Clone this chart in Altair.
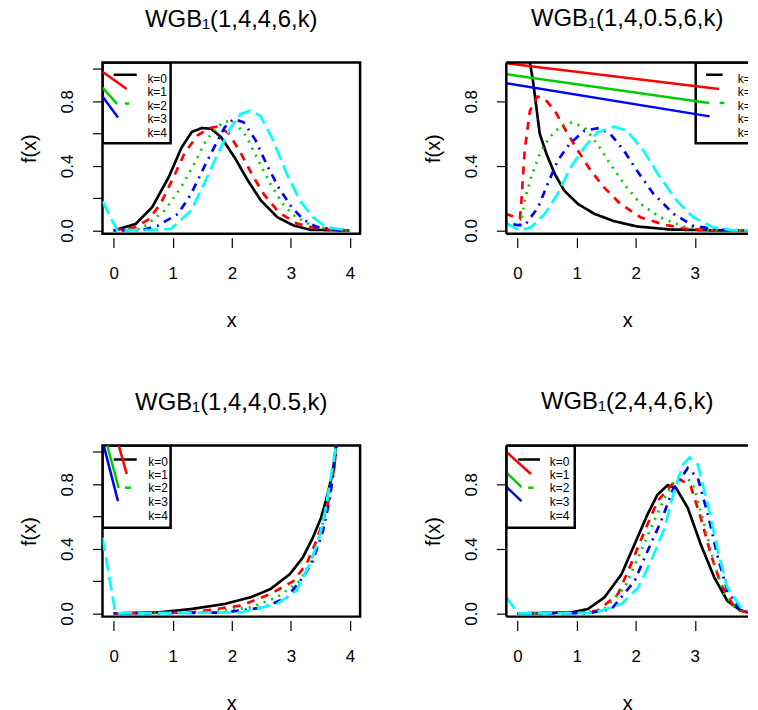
import altair as alt
import pandas as pd

KS = ["k=0", "k=1", "k=2", "k=3", "k=4"]
COLORS = ["#000000", "#ff0000", "#00cd00", "#0000ff", "#00ffff"]
DASHES = [[1, 0], [8, 7], [2, 6], [2, 6, 8, 6], [14, 6]]
TITLES = ["WGB₁(1,4,4,6,k)", "WGB₁(1,4,0.5,6,k)", "WGB₁(1,4,4,0.5,k)", "WGB₁(2,4,4,6,k)"]
X_TICKS = [0, 1, 2, 3, 4]
Y_TICKS = [0, 0.2, 0.4, 0.6, 0.8, 1.0]

# ---- panel 1 : WGB1(1,4,4,6,k)
P1_K0 = [(0, 0), (0.37, 0.04), (0.65, 0.144), (0.93, 0.33), (1.15, 0.515), (1.32, 0.61), (1.49, 0.635),
         (1.65, 0.63), (1.82, 0.577), (2.05, 0.45), (2.27, 0.31), (2.49, 0.186), (2.77, 0.082),
         (3.05, 0.03), (3.33, 0.004), (4, 0)]
P1_K1 = [(0, 0), (0.36, 0.02), (0.6, 0.07), (0.8, 0.17), (1.0, 0.32), (1.2, 0.48), (1.42, 0.59),
         (1.62, 0.635), (1.78, 0.645), (1.95, 0.6), (2.15, 0.48), (2.35, 0.34), (2.55, 0.22),
         (2.8, 0.11), (3.09, 0.045), (3.43, 0.012), (4, 0)]
P1_K2 = [(0, 0), (0.47, 0.01), (0.86, 0.124), (1.14, 0.268), (1.36, 0.412), (1.56, 0.557), (1.72, 0.63),
         (1.87, 0.676), (2.05, 0.67), (2.25, 0.58), (2.45, 0.43), (2.65, 0.29), (2.85, 0.17),
         (3.04, 0.095), (3.32, 0.035), (3.65, 0.008), (4, 0)]
P1_K3 = [(0, 0), (0.5, 0.003), (0.75, 0.03), (1.09, 0.103), (1.31, 0.227), (1.53, 0.392), (1.7, 0.515),
         (1.88, 0.64), (2.03, 0.69), (2.2, 0.67), (2.4, 0.56), (2.6, 0.4), (2.8, 0.26), (3.0, 0.15),
         (3.2, 0.07), (3.43, 0.022), (3.77, 0.002), (4, 0)]
P1_K4 = [(-0.19, 0.18), (0.06, 0), (0.6, 0.002), (0.97, 0.01), (1.31, 0.124), (1.53, 0.289), (1.76, 0.474),
         (1.98, 0.639), (2.15, 0.722), (2.31, 0.742), (2.48, 0.711), (2.7, 0.557), (2.93, 0.35),
         (3.15, 0.186), (3.37, 0.082), (3.6, 0.02), (4, 0)]

# ---- panel 2 : WGB1(1,4,0.5,6,k)
P2_K0 = [(0.15, 1.6), (0.21, 1.04), (0.26, 0.93), (0.32, 0.76), (0.375, 0.6), (0.49, 0.474), (0.63, 0.35),
         (0.79, 0.247), (1.02, 0.165), (1.3, 0.103), (1.63, 0.058), (2.02, 0.025), (2.58, 0.006),
         (3.4, 0), (4, 0)]
P2_K1 = [(-0.2, 0.103), (0.04, 0.072), (0.07, 0.206), (0.12, 0.495), (0.21, 0.742), (0.335, 0.83),
         (0.46, 0.815), (0.63, 0.742), (0.82, 0.618), (1.02, 0.495), (1.24, 0.371), (1.46, 0.268),
         (1.74, 0.165), (2.08, 0.082), (2.47, 0.037), (2.86, 0.01), (3.4, 0), (4, 0)]
P2_K2 = [(-0.2, 0.058), (0.04, 0.027), (0.12, 0.186), (0.23, 0.33), (0.375, 0.474), (0.54, 0.577),
         (0.74, 0.65), (0.93, 0.67), (1.13, 0.64), (1.35, 0.536), (1.57, 0.412), (1.8, 0.289),
         (2.08, 0.165), (2.41, 0.082), (2.8, 0.025), (3.3, 0.003), (4, 0)]
P2_K3 = [(-0.2, 0.04), (0.12, 0.03), (0.35, 0.144), (0.51, 0.289), (0.68, 0.433), (0.88, 0.536),
         (1.13, 0.618), (1.38, 0.635), (1.57, 0.598), (1.8, 0.495), (2.02, 0.371), (2.3, 0.227),
         (2.64, 0.103), (2.97, 0.03), (3.4, 0.004), (4, 0)]
P2_K4 = [(-0.2, 0.045), (0.04, 0), (0.23, 0.02), (0.46, 0.103), (0.68, 0.227), (0.9, 0.392), (1.13, 0.515),
         (1.35, 0.608), (1.63, 0.643), (1.85, 0.618), (2.13, 0.495), (2.41, 0.33), (2.69, 0.186),
         (2.97, 0.082), (3.31, 0.02), (3.65, 0), (4, 0)]

# ---- panel 3 : WGB1(1,4,4,0.5,k)
P3_K0 = [(0, 0), (0.75, 0.006), (1.31, 0.027), (1.87, 0.058), (2.31, 0.099), (2.65, 0.15), (2.98, 0.243),
         (3.2, 0.346), (3.37, 0.469), (3.51, 0.593), (3.62, 0.737), (3.71, 0.88), (3.76, 1.035), (3.82, 1.3)]
P3_K1 = [(0, 0), (1.31, 0.006), (2.15, 0.048), (2.65, 0.12), (3.04, 0.2), (3.26, 0.305), (3.43, 0.449),
         (3.54, 0.572), (3.65, 0.716), (3.73, 0.9), (3.77, 1.035), (3.82, 1.3)]
P3_K2 = [(0, 0), (1.6, 0.005), (2.31, 0.037), (2.76, 0.099), (3.15, 0.2), (3.34, 0.325), (3.48, 0.469),
         (3.59, 0.634), (3.69, 0.819), (3.76, 1.035), (3.82, 1.3)]
P3_K3 = [(0, 0), (1.87, 0.005), (2.54, 0.037), (2.93, 0.099), (3.2, 0.222), (3.37, 0.325), (3.54, 0.51),
         (3.65, 0.696), (3.73, 0.9), (3.77, 1.035), (3.82, 1.3)]
P3_K4 = [(-0.19, 0.47), (0.03, 0), (2.15, 0.006), (2.76, 0.058), (3.09, 0.14), (3.32, 0.305), (3.48, 0.469),
         (3.59, 0.654), (3.68, 0.86), (3.76, 1.035), (3.82, 1.3)]

# ---- panel 4 : WGB1(2,4,4,6,k)
P4_K0 = [(0, 0), (0.91, 0.006), (1.19, 0.027), (1.47, 0.099), (1.76, 0.243), (1.98, 0.428), (2.2, 0.614),
         (2.37, 0.737), (2.54, 0.794), (2.68, 0.778), (2.88, 0.654), (3.1, 0.428), (3.33, 0.222),
         (3.55, 0.078), (3.78, 0.017), (4, 0)]
P4_K1 = [(0, 0), (1.0, 0.002), (1.36, 0.017), (1.7, 0.12), (1.92, 0.305), (2.15, 0.51), (2.37, 0.696),
         (2.71, 0.84), (2.93, 0.788), (3.1, 0.593), (3.27, 0.367), (3.44, 0.181), (3.67, 0.037), (3.9, 0), (4, 0)]
P4_K2 = [(0, 0), (1.1, 0.002), (1.47, 0.027), (1.81, 0.16), (2.04, 0.346), (2.26, 0.531), (2.49, 0.716),
         (2.65, 0.819), (2.82, 0.87), (2.99, 0.778), (3.16, 0.552), (3.33, 0.305), (3.5, 0.12),
         (3.72, 0.017), (4, 0)]
P4_K3 = [(0, 0), (1.2, 0.002), (1.59, 0.027), (1.98, 0.2), (2.2, 0.387), (2.43, 0.572), (2.63, 0.768),
         (2.88, 0.9), (3.05, 0.84), (3.22, 0.614), (3.39, 0.346), (3.55, 0.14), (3.78, 0.017), (4, 0)]
P4_K4 = [(-0.19, 0.099), (0.01, 0), (1.3, 0.003), (1.76, 0.058), (2.04, 0.16), (2.26, 0.325), (2.49, 0.531),
         (2.65, 0.757), (2.8, 0.922), (2.91, 0.967), (3.05, 0.922), (3.22, 0.675), (3.39, 0.387),
         (3.55, 0.16), (3.78, 0.037), (4, 0)]

# ---- legend pieces (data units): box [x1, x2, y1, y2]; segments (k, x1, y1, x2, y2)
LEG_TEXT_Y = [0.94, 0.857, 0.774, 0.688, 0.604]
P1_BOX = [-0.19, 0.963, 0.54, 1.04]
P1_TEXT_X = 0.57
P1_SEGS = [("k=0", 0.0, 0.965, 0.39, 0.965), ("k=1", -0.19, 0.983, 0.22, 0.876),
           ("k=2", -0.19, 0.885, 0.055, 0.784), ("k=2", 0.19, 0.787, 0.26, 0.787),
           ("k=3", -0.19, 0.83, 0.072, 0.70)]
P2_BOX = [3.015, 4.6, 0.54, 1.04]
P2_TEXT_X = 3.725
P2_SEGS = [("k=0", 3.19, 0.965, 3.47, 0.965), ("k=1", -0.2, 1.037, 3.41, 0.876),
           ("k=2", -0.2, 0.969, 3.24, 0.79), ("k=2", 3.42, 0.79, 3.5, 0.79),
           ("k=3", -0.2, 0.913, 3.25, 0.707)]
P3_BOX = [-0.19, 0.963, 0.531, 1.04]
P3_TEXT_X = 0.585
P3_SEGS = [("k=0", 0.0, 0.953, 0.39, 0.953), ("k=1", 0.084, 1.041, 0.22, 0.864),
           ("k=2", -0.11, 1.041, 0.084, 0.778), ("k=2", 0.19, 0.778, 0.29, 0.778),
           ("k=3", -0.17, 1.041, 0.072, 0.696)]
P4_BOX = [-0.19, 0.968, 0.531, 1.04]
P4_TEXT_X = 0.546
P4_SEGS = [("k=0", 0.01, 0.953, 0.38, 0.953), ("k=1", -0.2, 1.004, 0.226, 0.864),
           ("k=2", -0.2, 0.877, 0.067, 0.782), ("k=2", 0.18, 0.778, 0.265, 0.778),
           ("k=3", -0.2, 0.788, 0.067, 0.696)]

X_DOMAIN_FULL = [-0.19, 4.17]   # left-hand panels
X_DOMAIN_CUT = [-0.19, 3.90]    # right-hand panels run off the page edge
Y_DOMAIN = [-0.02, 1.04]
FONT = "Liberation Sans"
PX_PER_UNIT = 259 / (X_DOMAIN_FULL[1] - X_DOMAIN_FULL[0])

yscale = alt.Scale(domain=Y_DOMAIN, nice=False, zero=False)
cscale = alt.Scale(domain=KS, range=COLORS)
dscale = alt.Scale(domain=KS, range=DASHES)

yaxis = alt.Axis(values=Y_TICKS, domain=False, grid=False, tickSize=10, tickWidth=1.2, tickColor="black",
                 labelExpr="(round(datum.value*10) % 4 == 0) ? format(datum.value, '.1f') : ''",
                 labelAngle=270, labelAlign="center", labelBaseline="bottom", labelFontSize=17,
                 labelColor="black", labelPadding=16, title="f(x)", titleFontSize=20,
                 titleFontWeight="normal", titleColor="black", titlePadding=19,
                 labelFont=FONT, titleFont=FONT)


def panel(curves, box, segs, text_x, title, xdom):
    xticks = [t for t in X_TICKS if xdom[0] <= t <= xdom[1]]
    xscale = alt.Scale(domain=xdom, nice=False, zero=False)
    xaxis = alt.Axis(values=xticks, format="d", domain=False, grid=False, tickSize=10, tickWidth=1.2,
                     tickColor="black", labelFontSize=17, labelColor="black", labelPadding=18, offset=4,
                     title="x", titleFontSize=20, titleFontWeight="normal", titleColor="black",
                     titlePadding=29, labelFont=FONT, titleFont=FONT)

    def X(field="x"):
        return alt.X(f"{field}:Q", scale=xscale, axis=xaxis)

    def Y(field="y"):
        return alt.Y(f"{field}:Q", scale=yscale, axis=yaxis)

    rows = []
    for k, pts in zip(KS, curves):
        for i, (x, y) in enumerate(pts):
            rows.append({"x": x, "y": y, "k": k, "i": i})
    cdf = pd.DataFrame(rows)
    srows = []
    for j, (k, x1, y1, x2, y2) in enumerate(segs):
        srows.append({"x": x1, "y": y1, "k": k, "seg": j, "i": 0})
        srows.append({"x": x2, "y": y2, "k": k, "seg": j, "i": 1})
    sdf = pd.DataFrame(srows)
    bdf = pd.DataFrame([{"x": box[0], "x2": box[1], "y": box[2], "y2": box[3]}])
    tdf = pd.DataFrame({"x": [text_x] * 5, "y": LEG_TEXT_Y, "label": KS})

    lines = alt.Chart(cdf).mark_line(strokeWidth=2.7, clip=True, strokeCap="butt").encode(
        x=X(), y=Y(),
        color=alt.Color("k:N", scale=cscale, legend=None),
        strokeDash=alt.StrokeDash("k:N", scale=dscale, legend=None),
        order="i:Q")
    boxl = alt.Chart(bdf).mark_rect(filled=False, stroke="black", strokeWidth=2.5, clip=True).encode(
        x=X(), x2="x2:Q", y=Y(), y2="y2:Q")
    segl = alt.Chart(sdf).mark_line(strokeWidth=2.5, clip=True).encode(
        x=X(), y=Y(), detail="seg:N", order="i:Q",
        color=alt.Color("k:N", scale=cscale, legend=None))
    txt = alt.Chart(tdf).mark_text(align="left", baseline="middle", fontSize=12, font=FONT,
                                   color="black", clip=True).encode(
        x=X(), y=Y(), text="label:N")
    layers = [lines, boxl, segl, txt]
    full = xdom[1] >= X_DOMAIN_FULL[1]
    if not full:
        # frame drawn on three sides only: the right side lies beyond the page edge
        fr = alt.Chart(bdf).mark_rule(color="black", strokeWidth=2.5)
        layers += [
            fr.encode(x=alt.datum(xdom[0]), y=alt.datum(Y_DOMAIN[0], scale=yscale, axis=yaxis),
                      y2=alt.datum(Y_DOMAIN[1])),
            fr.encode(x=alt.datum(xdom[0]), x2=alt.datum(xdom[1]), y=alt.datum(Y_DOMAIN[0])),
            fr.encode(x=alt.datum(xdom[0]), x2=alt.datum(xdom[1]), y=alt.datum(Y_DOMAIN[1])),
        ]
    view = (alt.ViewBackground(stroke="black", strokeWidth=2.5) if full
            else alt.ViewBackground(strokeOpacity=0))
    width = round(PX_PER_UNIT * (xdom[1] - xdom[0]))
    return alt.layer(*layers).properties(
        width=width, height=172, view=view,
        title=alt.TitleParams(title, fontSize=24, fontWeight="normal", font=FONT, color="black",
                              anchor="middle", baseline="alphabetic", offset=12))


p1 = panel([P1_K0, P1_K1, P1_K2, P1_K3, P1_K4], P1_BOX, P1_SEGS, P1_TEXT_X, TITLES[0], X_DOMAIN_FULL)
p2 = panel([P2_K0, P2_K1, P2_K2, P2_K3, P2_K4], P2_BOX, P2_SEGS, P2_TEXT_X, TITLES[1], X_DOMAIN_CUT)
p3 = panel([P3_K0, P3_K1, P3_K2, P3_K3, P3_K4], P3_BOX, P3_SEGS, P3_TEXT_X, TITLES[2], X_DOMAIN_FULL)
p4 = panel([P4_K0, P4_K1, P4_K2, P4_K3, P4_K4], P4_BOX, P4_SEGS, P4_TEXT_X, TITLES[3], X_DOMAIN_CUT)

chart = alt.concat(p1, p2, p3, p4, columns=2, spacing={"row": 213, "column": 147}).properties(
    bounds="flush", padding={"left": 10, "top": -4, "right": 0, "bottom": 0}
).configure(font=FONT, background="white").configure_view(stroke="black", strokeWidth=2.5)

chart.save("out.html", embed_options={"renderer": "svg", "actions": False})
